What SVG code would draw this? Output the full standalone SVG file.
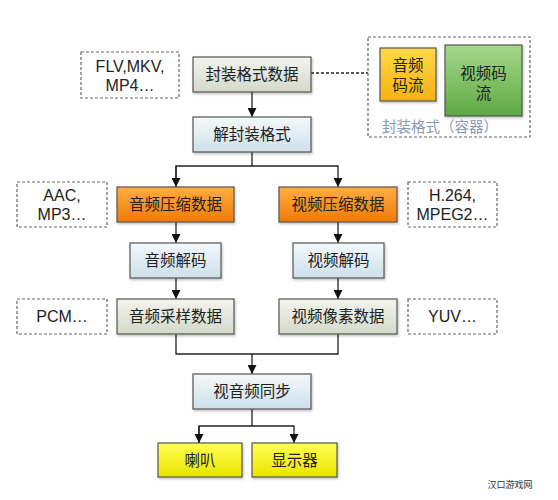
<svg xmlns="http://www.w3.org/2000/svg" width="558" height="500" viewBox="0 0 558 500">
<defs>
<linearGradient id="gGray" x1="0" y1="0" x2="0" y2="1"><stop offset="0" stop-color="#f2f4ee"/><stop offset="1" stop-color="#d3d9ca"/></linearGradient>
<linearGradient id="gBlue" x1="0" y1="0" x2="0" y2="1"><stop offset="0" stop-color="#f4f8fb"/><stop offset="1" stop-color="#cde0ea"/></linearGradient>
<linearGradient id="gOrange" x1="0" y1="0" x2="0" y2="1"><stop offset="0" stop-color="#ffae45"/><stop offset="1" stop-color="#f07a05"/></linearGradient>
<linearGradient id="gYellow" x1="0" y1="0" x2="0" y2="1"><stop offset="0" stop-color="#ffff55"/><stop offset="1" stop-color="#e9e300"/></linearGradient>
<linearGradient id="gAmber" x1="0" y1="0" x2="0" y2="1"><stop offset="0" stop-color="#ffd84a"/><stop offset="1" stop-color="#f7b20e"/></linearGradient>
<linearGradient id="gGreen" x1="0" y1="0" x2="0" y2="1"><stop offset="0" stop-color="#a5d98a"/><stop offset="1" stop-color="#5ea844"/></linearGradient>
<marker id="arr" viewBox="0 0 10 10" refX="10" refY="5" markerWidth="9" markerHeight="9" markerUnits="userSpaceOnUse" orient="auto"><path d="M0,0 L10,5 L0,10 z" fill="#111"/></marker>
<filter id="sh" x="-10%" y="-10%" width="130%" height="140%"><feDropShadow dx="1" dy="1.5" stdDeviation="1" flood-color="#000" flood-opacity="0.25"/></filter>
</defs>
<style>
.box{stroke:#555;stroke-width:1.2;filter:url(#sh)}
.dash{fill:#fff;stroke:#666;stroke-width:1.2;stroke-dasharray:3,2}
.t{font-family:"Noto Sans CJK SC","Noto Sans",sans-serif;font-size:15.5px;fill:#222;text-anchor:middle}
.l{font-family:"Liberation Sans",Arial,sans-serif;font-size:16px;fill:#222;text-anchor:middle}
.c{fill:none;stroke:#222;stroke-width:1.3}
</style>
<rect width="558" height="500" fill="#fff"/>

<g id="connectors">
<line class="c" x1="311" y1="73" x2="368" y2="73" stroke-dasharray="3,2" stroke="#444"/>
<line class="c" x1="252" y1="92" x2="252" y2="117" marker-end="url(#arr)"/>
<polyline class="c" points="252,152 252,166"/>
<polyline class="c" points="176,187 176,166 338,166 338,187" marker-end="url(#arr)"/>
<line class="c" x1="176" y1="166" x2="176" y2="187" marker-end="url(#arr)"/>
<line class="c" x1="176" y1="222" x2="176" y2="243" marker-end="url(#arr)"/>
<line class="c" x1="338" y1="222" x2="338" y2="243" marker-end="url(#arr)"/>
<line class="c" x1="176" y1="278" x2="176" y2="299" marker-end="url(#arr)"/>
<line class="c" x1="338" y1="278" x2="338" y2="299" marker-end="url(#arr)"/>
<polyline class="c" points="176,334 176,354 338,354 338,334"/>
<line class="c" x1="252" y1="354" x2="252" y2="374" marker-end="url(#arr)"/>
<polyline class="c" points="252,409 252,426"/>
<polyline class="c" points="199,443 199,426 294,426 294,443" marker-end="url(#arr)"/>
<line class="c" x1="199" y1="426" x2="199" y2="443" marker-end="url(#arr)"/>
</g>

<g id="formats">
<rect class="dash" x="81" y="52" width="98" height="46"/>
<text class="l" x="130" y="72">FLV,MKV,</text>
<text class="l" x="130" y="91">MP4…</text>
</g>

<g id="container">
<rect class="dash" x="368" y="37" width="162" height="100"/>
<g id="audio-stream">
<rect class="box" x="380" y="48" width="56" height="53" fill="url(#gAmber)"/>
<text class="t" x="408" y="71">音频</text>
<text class="t" x="408" y="91">码流</text>
</g>
<g id="video-stream">
<rect class="box" x="445" y="45" width="77" height="71" fill="url(#gGreen)"/>
<text class="t" x="483.5" y="79">视频码</text>
<text class="t" x="483.5" y="99">流</text>
</g>
<text x="440" y="132" style="font-family:'Noto Sans CJK SC',sans-serif;font-size:14.5px;fill:#8a9bb0;text-anchor:middle">封装格式（容器）</text>
</g>

<g id="mux-data">
<rect class="box" x="193" y="57" width="118" height="35" fill="url(#gGray)"/>
<text class="t" x="252" y="80">封装格式数据</text>
</g>

<g id="demux">
<rect class="box" x="193" y="117" width="118" height="35" fill="url(#gBlue)"/>
<text class="t" x="252" y="140">解封装格式</text>
</g>

<g id="audio-formats">
<rect class="dash" x="17" y="182" width="90" height="45"/>
<text class="l" x="62" y="201">AAC,</text>
<text class="l" x="62" y="220">MP3…</text>
</g>

<g id="audio-compressed">
<rect class="box" x="117" y="187" width="117" height="35" fill="url(#gOrange)"/>
<text class="t" x="175.5" y="210">音频压缩数据</text>
</g>

<g id="video-compressed">
<rect class="box" x="279" y="187" width="118" height="35" fill="url(#gOrange)"/>
<text class="t" x="338" y="210">视频压缩数据</text>
</g>

<g id="video-formats">
<rect class="dash" x="408" y="182" width="89" height="45"/>
<text class="l" x="452.5" y="201">H.264,</text>
<text class="l" x="452.5" y="220">MPEG2…</text>
</g>

<g id="audio-decode">
<rect class="box" x="130" y="243" width="91" height="35" fill="url(#gBlue)"/>
<text class="t" x="175.5" y="266">音频解码</text>
</g>

<g id="video-decode">
<rect class="box" x="293" y="243" width="91" height="35" fill="url(#gBlue)"/>
<text class="t" x="338.5" y="266">视频解码</text>
</g>

<g id="pcm">
<rect class="dash" x="17" y="299" width="90" height="35"/>
<text class="l" x="62" y="322">PCM…</text>
</g>

<g id="audio-sample">
<rect class="box" x="117" y="299" width="117" height="35" fill="url(#gGray)"/>
<text class="t" x="175.5" y="322">音频采样数据</text>
</g>

<g id="video-pixel">
<rect class="box" x="279" y="299" width="118" height="35" fill="url(#gGray)"/>
<text class="t" x="338" y="322">视频像素数据</text>
</g>

<g id="yuv">
<rect class="dash" x="408" y="299" width="89" height="35"/>
<text class="l" x="452.5" y="322">YUV…</text>
</g>

<g id="sync">
<rect class="box" x="193" y="374" width="118" height="35" fill="url(#gBlue)"/>
<text class="t" x="252" y="397">视音频同步</text>
</g>

<g id="speaker">
<rect class="box" x="158" y="443" width="84" height="34" fill="url(#gYellow)"/>
<text class="t" x="200" y="466">喇叭</text>
</g>

<g id="display">
<rect class="box" x="252" y="443" width="85" height="34" fill="url(#gYellow)"/>
<text class="t" x="294.5" y="466">显示器</text>
</g>

<g id="watermark">
<text x="510" y="488" style="font-family:'Noto Sans CJK SC',sans-serif;font-size:9px;fill:#333;text-anchor:middle">汉口游戏网</text>
</g>
</svg>
